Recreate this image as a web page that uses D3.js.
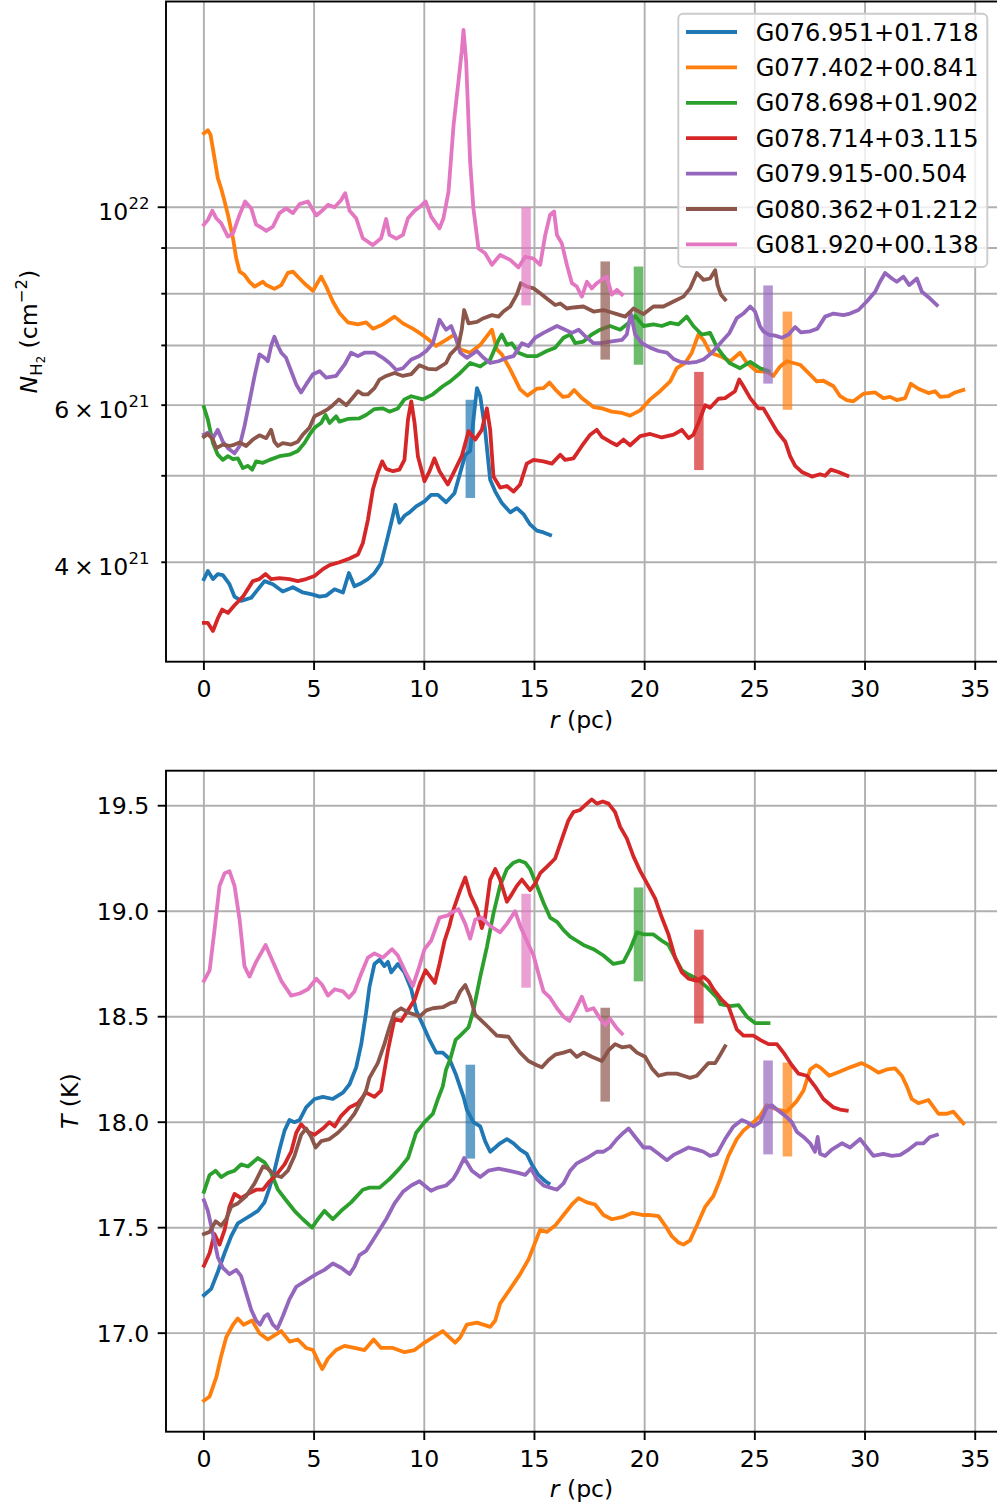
<!DOCTYPE html>
<html><head><meta charset="utf-8">
<script src="https://cdn.jsdelivr.net/npm/d3@7"></script>
<style>body{margin:0;background:#fff} text{font-family:"DejaVu Sans",sans-serif;fill:#000}</style>
</head><body><svg id="c" width="997" height="1510" xmlns="http://www.w3.org/2000/svg"></svg>
<script>
// ---------------- data ----------------
const names = ["G076.951+01.718","G077.402+00.841","G078.698+01.902","G078.714+03.115","G079.915-00.504","G080.362+01.212","G081.920+00.138"];
const colors = ["#1f77b4","#ff7f0e","#2ca02c","#d62728","#9467bd","#8c564b","#e377c2"];

// column density profiles, N(H2) in units of 1e21 cm^-2, [r (pc), N]
const blueN = [[0,3.83],[0.18,3.91],[0.41,3.83],[0.63,3.88],[0.86,3.87],[1.16,3.78],[1.39,3.66],[1.69,3.62],[2.15,3.65],[2.45,3.73],[2.75,3.81],[3.13,3.78],[3.58,3.71],[4.04,3.75],[4.49,3.70],[4.95,3.68],[5.25,3.66],[5.55,3.67],[5.93,3.73],[6.31,3.70],[6.58,3.89],[6.83,3.76],[7.14,3.79],[7.44,3.83],[7.74,3.89],[8.04,3.99],[8.27,4.20],[8.50,4.43],[8.69,4.64],[8.87,4.43],[9.10,4.51],[9.33,4.55],[9.63,4.62],[10.01,4.68],[10.31,4.76],[10.62,4.76],[10.99,4.67],[11.37,4.78],[11.63,5.04],[11.86,5.28],[12.08,5.33],[12.23,5.78],[12.39,6.27],[12.54,6.14],[12.76,5.63],[12.99,4.95],[13.22,4.80],[13.52,4.66],[13.90,4.55],[14.20,4.60],[14.50,4.53],[14.80,4.41],[15.11,4.34],[15.41,4.32],[15.71,4.29]];
const orangeN = [[0,12.10],[0.18,12.20],[0.30,12.06],[0.48,11.35],[0.63,10.78],[0.78,10.50],[0.94,10.15],[1.09,9.81],[1.32,9.23],[1.47,8.76],[1.62,8.47],[1.84,8.40],[2.07,8.25],[2.30,8.15],[2.68,8.25],[2.83,8.18],[3.20,8.10],[3.51,8.18],[3.81,8.44],[4.04,8.47],[4.34,8.32],[4.64,8.18],[4.95,8.06],[5.10,8.18],[5.32,8.36],[5.55,8.15],[5.85,7.84],[6.15,7.61],[6.53,7.43],[6.99,7.39],[7.36,7.43],[7.67,7.31],[8.12,7.39],[8.65,7.54],[9.03,7.41],[9.48,7.31],[9.78,7.23],[10.09,7.14],[10.54,6.99],[10.99,7.10],[11.37,7.20],[11.63,6.93],[12.08,6.87],[12.54,7.01],[13.07,7.29],[13.29,6.93],[13.52,6.84],[13.90,6.58],[14.35,6.25],[14.68,6.15],[15.11,6.26],[15.41,6.27],[15.68,6.36],[15.94,6.25],[16.29,6.13],[16.54,6.14],[16.80,6.24],[17.15,6.11],[17.68,5.97],[18.06,5.95],[18.51,5.90],[18.97,5.88],[19.34,5.84],[19.80,5.92],[20.25,6.09],[20.70,6.22],[21.16,6.38],[21.46,6.60],[21.84,6.69],[22.14,6.87],[22.44,7.20],[22.67,7.10],[22.97,6.87],[23.43,6.81],[23.88,6.72],[24.33,6.87],[24.64,6.69],[25.09,6.55],[25.54,6.54],[25.84,6.47],[26.15,6.63],[26.45,6.72],[27.05,6.66],[27.43,6.52],[27.81,6.38],[28.11,6.39],[28.57,6.30],[28.87,6.14],[29.17,6.08],[29.47,6.06],[29.93,6.18],[30.46,6.20],[30.83,6.11],[31.14,6.13],[31.44,6.08],[31.82,6.11],[32.08,6.34],[32.42,6.26],[32.88,6.19],[33.18,6.22],[33.41,6.13],[33.78,6.14],[34.09,6.20],[34.46,6.24]];
const greenN = [[0,5.97],[0.18,5.78],[0.41,5.44],[0.63,5.28],[0.86,5.21],[1.09,5.26],[1.32,5.22],[1.54,5.23],[1.77,5.10],[2.00,5.13],[2.19,5.08],[2.37,5.19],[2.68,5.17],[2.98,5.21],[3.43,5.26],[3.88,5.28],[4.26,5.33],[4.56,5.44],[4.79,5.56],[5.02,5.66],[5.32,5.73],[5.52,5.85],[5.70,5.73],[6.00,5.83],[6.15,5.75],[6.53,5.79],[7.06,5.80],[7.36,5.85],[7.74,5.94],[8.12,5.95],[8.42,5.90],[8.80,5.95],[9.10,6.09],[9.41,6.14],[9.94,6.09],[10.39,6.17],[10.84,6.30],[11.18,6.38],[11.63,6.52],[12.08,6.69],[12.54,6.63],[12.99,6.75],[13.37,7.10],[13.52,7.20],[13.75,7.01],[13.97,7.04],[14.27,6.87],[14.65,6.81],[15.11,6.81],[15.56,6.90],[15.94,6.96],[16.32,7.14],[16.62,7.20],[16.85,7.04],[17.22,7.07],[17.60,7.20],[17.98,7.29],[18.43,7.36],[18.89,7.29],[19.27,7.42],[19.57,7.55],[19.95,7.36],[20.40,7.39],[20.78,7.36],[21.16,7.42],[21.53,7.39],[21.91,7.54],[22.21,7.36],[22.59,7.20],[22.97,7.23],[23.28,6.97],[23.58,6.81],[23.85,6.69],[24.33,6.60],[24.79,6.71],[25.24,6.60],[25.62,6.55]];
const redN = [[0,3.42],[0.18,3.42],[0.41,3.35],[0.63,3.46],[0.83,3.54],[1.09,3.51],[1.39,3.58],[1.77,3.66],[2.22,3.81],[2.52,3.83],[2.80,3.88],[3.05,3.83],[3.43,3.84],[3.88,3.83],[4.26,3.81],[4.64,3.83],[5.02,3.86],[5.40,3.93],[5.70,3.97],[6.15,4.00],[6.61,4.04],[6.99,4.08],[7.21,4.20],[7.44,4.46],[7.67,4.83],[7.89,5.04],[8.09,5.19],[8.27,5.09],[8.58,5.06],[8.87,5.08],[9.10,5.21],[9.26,5.78],[9.41,6.06],[9.56,5.73],[9.71,5.26],[10.01,4.93],[10.24,5.06],[10.46,5.23],[10.69,5.06],[11.07,4.89],[11.40,5.08],[11.70,5.26],[12.01,5.61],[12.31,5.49],[12.61,5.63],[12.84,5.95],[12.99,5.63],[13.14,4.99],[13.44,4.85],[13.75,4.87],[14.05,4.80],[14.35,4.89],[14.65,5.16],[14.96,5.21],[15.41,5.19],[15.79,5.16],[16.17,5.28],[16.39,5.21],[16.77,5.23],[17.15,5.40],[17.53,5.56],[17.83,5.63],[18.06,5.53],[18.43,5.46],[18.74,5.41],[19.04,5.49],[19.34,5.41],[19.80,5.54],[20.25,5.57],[20.78,5.52],[21.31,5.56],[21.69,5.63],[21.99,5.51],[22.21,5.56],[22.44,5.73],[22.75,6.00],[22.97,5.96],[23.35,6.10],[23.65,6.11],[24.10,6.22],[24.29,6.41],[24.48,6.30],[24.79,6.11],[25.16,5.95],[25.39,5.95],[25.69,5.78],[26.00,5.61],[26.38,5.46],[26.60,5.26],[26.83,5.13],[27.13,5.05],[27.59,4.99],[27.96,5.02],[28.19,5.00],[28.45,5.08],[28.79,5.05],[29.20,5.00]];
const purpleN = [[0,5.56],[0.18,5.59],[0.41,5.51],[0.63,5.63],[0.86,5.46],[1.09,5.37],[1.39,5.30],[1.62,5.40],[1.84,5.68],[2.07,6.06],[2.30,6.47],[2.52,6.84],[2.75,6.78],[2.90,6.72],[3.05,6.99],[3.20,7.16],[3.36,6.99],[3.51,6.87],[3.73,6.78],[3.96,6.55],[4.19,6.33],[4.41,6.20],[4.64,6.33],[4.95,6.50],[5.25,6.55],[5.55,6.44],[6.00,6.47],[6.38,6.66],[6.68,6.87],[6.99,6.81],[7.29,6.87],[7.74,6.87],[8.12,6.78],[8.42,6.69],[8.73,6.57],[9.03,6.60],[9.41,6.75],[9.78,6.81],[10.09,6.90],[10.39,7.04],[10.69,7.48],[10.99,7.29],[11.22,7.36],[11.42,7.15],[11.63,6.87],[11.93,6.78],[12.39,6.90],[12.69,6.78],[12.99,6.69],[13.37,6.72],[13.75,6.78],[14.05,6.81],[14.43,7.04],[14.73,6.99],[15.03,7.14],[15.41,7.23],[16.02,7.36],[16.39,7.29],[16.70,7.23],[17.00,7.29],[17.30,7.17],[17.68,7.04],[17.98,7.04],[18.43,7.07],[18.97,7.10],[19.19,7.20],[19.37,7.60],[19.57,7.20],[19.87,7.04],[20.25,6.96],[20.63,6.90],[21.01,6.87],[21.31,6.76],[21.61,6.71],[21.99,6.69],[22.37,6.71],[22.67,6.75],[23.05,6.87],[23.43,7.04],[23.85,7.23],[24.18,7.51],[24.48,7.60],[24.79,7.74],[25.01,7.64],[25.24,7.35],[25.39,7.26],[25.62,7.20],[25.92,7.18],[26.23,7.14],[26.53,7.20],[26.83,7.34],[27.09,7.24],[27.51,7.26],[27.84,7.31],[28.19,7.54],[28.57,7.60],[29.02,7.57],[29.32,7.60],[29.70,7.67],[30.08,7.84],[30.46,8.04],[30.68,8.25],[30.91,8.44],[31.22,8.32],[31.44,8.25],[31.74,8.36],[32.01,8.18],[32.35,8.32],[32.58,8.04],[32.95,7.90],[33.26,7.77]];
const brownN = [[0,5.53],[0.18,5.57],[0.41,5.49],[0.56,5.37],[0.86,5.42],[1.16,5.40],[1.39,5.42],[1.62,5.45],[1.92,5.40],[2.22,5.49],[2.52,5.55],[2.83,5.51],[3.05,5.63],[3.20,5.46],[3.36,5.40],[3.58,5.44],[3.96,5.42],[4.26,5.46],[4.49,5.56],[4.79,5.66],[5.02,5.83],[5.32,5.88],[5.63,5.94],[5.85,6.00],[6.13,6.09],[6.46,6.00],[6.76,6.12],[6.99,6.22],[7.21,6.17],[7.44,6.17],[7.74,6.27],[7.97,6.41],[8.27,6.47],[8.65,6.52],[9.03,6.47],[9.41,6.50],[9.78,6.65],[10.16,6.59],[10.54,6.58],[10.99,6.69],[11.18,6.84],[11.55,6.99],[11.70,7.29],[11.81,7.67],[12.01,7.41],[12.39,7.44],[12.69,7.51],[13.07,7.57],[13.37,7.54],[13.59,7.64],[13.90,7.74],[14.20,7.98],[14.38,8.22],[14.65,8.15],[14.96,8.11],[15.26,8.01],[15.56,7.90],[15.94,7.77],[16.17,7.80],[16.47,7.70],[16.77,7.72],[17.22,7.74],[17.68,7.64],[18.13,7.67],[18.43,7.63],[18.89,7.57],[19.12,7.54],[19.49,7.70],[19.95,7.59],[20.40,7.74],[20.85,7.74],[21.31,7.84],[21.76,7.94],[22.06,8.11],[22.37,8.44],[22.67,8.29],[22.97,8.32],[23.20,8.50],[23.31,8.18],[23.46,7.98],[23.65,7.88]];
const pinkN = [[0,9.56],[0.18,9.68],[0.38,9.91],[0.56,9.72],[0.78,9.60],[1.09,9.27],[1.32,9.35],[1.62,9.81],[1.87,10.15],[2.15,9.97],[2.37,9.56],[2.60,9.49],[2.83,9.41],[3.13,9.51],[3.43,9.85],[3.73,9.97],[4.04,9.85],[4.34,10.08],[4.72,10.15],[5.10,9.79],[5.40,9.93],[5.63,10.06],[5.93,10.00],[6.23,10.19],[6.41,10.37],[6.61,9.91],[6.91,9.72],[7.21,9.23],[7.67,9.07],[8.04,9.23],[8.27,9.70],[8.42,9.31],[8.73,9.22],[9.03,9.31],[9.26,9.72],[9.56,9.91],[9.86,10.04],[10.06,10.15],[10.31,9.76],[10.69,9.47],[10.87,9.72],[11.10,10.41],[11.33,12.37],[11.55,13.83],[11.70,14.96],[11.78,15.80],[11.90,14.57],[12.08,11.25],[12.23,9.97],[12.46,8.99],[12.76,8.88],[13.07,8.62],[13.44,8.84],[13.90,8.73],[14.27,8.56],[14.58,8.80],[14.96,8.76],[15.26,8.62],[15.49,9.31],[15.71,9.81],[15.89,9.89],[16.02,9.31],[16.24,9.11],[16.47,8.62],[16.70,8.22],[16.92,8.15],[17.15,7.94],[17.38,8.25],[17.60,8.11],[17.83,8.22],[18.13,8.32],[18.28,8.36],[18.51,7.98],[18.74,8.08],[18.97,7.98]];

// dust temperature profiles, [r (pc), T (K)]
const blueT = [[0,17.18],[0.33,17.21],[0.63,17.29],[0.94,17.38],[1.24,17.46],[1.54,17.52],[1.84,17.54],[2.15,17.56],[2.45,17.58],[2.75,17.62],[2.98,17.69],[3.20,17.77],[3.43,17.87],[3.66,17.96],[3.88,18.01],[4.11,18.00],[4.34,18.01],[4.64,18.07],[5.02,18.11],[5.40,18.12],[5.85,18.11],[6.31,18.14],[6.61,18.18],[6.91,18.26],[7.14,18.37],[7.36,18.52],[7.51,18.64],[7.74,18.75],[7.97,18.77],[8.19,18.74],[8.35,18.76],[8.50,18.71],[8.80,18.75],[9.10,18.71],[9.41,18.63],[9.63,18.53],[9.94,18.46],[10.24,18.39],[10.54,18.33],[10.84,18.33],[11.14,18.30],[11.42,18.23],[11.78,18.12],[11.93,18.06],[12.23,18.00],[12.54,17.98],[12.76,17.91],[12.99,17.86],[13.22,17.88],[13.44,17.90],[13.75,17.92],[14.05,17.90],[14.35,17.87],[14.65,17.85],[14.88,17.80],[15.18,17.75],[15.49,17.72],[15.64,17.71]];
const orangeT = [[0,16.68],[0.26,16.70],[0.56,16.79],[0.78,16.89],[1.01,16.98],[1.32,17.04],[1.54,17.07],[1.80,17.04],[2.19,17.06],[2.52,17.00],[2.90,16.97],[3.20,16.99],[3.51,17.01],[3.89,16.96],[4.26,16.97],[4.64,16.93],[4.95,16.92],[5.17,16.87],[5.37,16.83],[5.63,16.88],[6.00,16.92],[6.38,16.94],[6.83,16.93],[7.29,16.92],[7.70,16.97],[8.04,16.93],[8.58,16.93],[9.10,16.91],[9.56,16.92],[9.94,16.95],[10.39,16.98],[10.84,17.01],[11.14,16.98],[11.40,16.955],[11.63,16.98],[11.93,17.04],[12.39,17.05],[12.99,17.03],[13.22,17.06],[13.44,17.14],[13.90,17.21],[14.35,17.28],[14.73,17.35],[15.03,17.43],[15.26,17.49],[15.56,17.48],[15.94,17.51],[16.32,17.56],[16.70,17.61],[17.00,17.64],[17.38,17.62],[17.75,17.61],[18.13,17.56],[18.51,17.54],[18.97,17.55],[19.42,17.57],[19.95,17.56],[20.25,17.56],[20.63,17.555],[20.93,17.51],[21.23,17.46],[21.53,17.43],[21.76,17.42],[22.06,17.44],[22.37,17.51],[22.75,17.60],[23.12,17.65],[23.43,17.73],[23.80,17.84],[24.18,17.92],[24.48,17.96],[24.94,18.00],[25.24,18.03],[25.54,18.08],[26.00,18.06],[26.45,18.05],[26.90,18.10],[27.21,18.15],[27.51,18.25],[27.78,18.27],[27.96,18.26],[28.38,18.22],[28.87,18.24],[29.32,18.26],[29.85,18.28],[30.23,18.26],[30.61,18.235],[30.99,18.25],[31.37,18.255],[31.67,18.22],[31.90,18.17],[32.12,18.11],[32.42,18.09],[32.88,18.105],[33.33,18.04],[33.71,18.04],[34.01,18.05],[34.46,17.995]];
const greenT = [[0,17.67],[0.26,17.75],[0.53,17.77],[0.78,17.74],[1.09,17.76],[1.39,17.77],[1.69,17.80],[2.00,17.79],[2.45,17.83],[2.75,17.81],[3.05,17.76],[3.36,17.68],[3.73,17.63],[4.11,17.58],[4.49,17.54],[4.91,17.50],[5.17,17.54],[5.47,17.58],[5.85,17.54],[6.23,17.58],[6.68,17.62],[7.21,17.68],[7.51,17.69],[7.97,17.69],[8.42,17.73],[8.87,17.78],[9.26,17.83],[9.63,17.95],[10.01,18.00],[10.39,18.04],[10.62,18.11],[10.84,18.17],[10.99,18.25],[11.18,18.30],[11.42,18.39],[11.63,18.41],[12.01,18.45],[12.23,18.53],[12.54,18.69],[12.84,18.83],[13.14,18.99],[13.44,19.12],[13.75,19.20],[14.05,19.23],[14.31,19.24],[14.58,19.23],[14.80,19.20],[15.11,19.12],[15.41,19.04],[15.71,18.97],[16.02,18.95],[16.32,18.91],[16.62,18.88],[16.92,18.86],[17.22,18.84],[17.68,18.82],[18.13,18.79],[18.58,18.75],[19.04,18.76],[19.34,18.82],[19.65,18.90],[19.95,18.89],[20.40,18.89],[20.78,18.86],[21.08,18.84],[21.38,18.78],[21.69,18.72],[21.99,18.70],[22.37,18.68],[22.82,18.64],[23.28,18.59],[23.43,18.56],[23.88,18.55],[24.26,18.555],[24.64,18.50],[25.01,18.47],[25.62,18.47]];
const redT = [[0,17.32],[0.26,17.38],[0.48,17.47],[0.71,17.42],[0.94,17.49],[1.16,17.60],[1.39,17.66],[1.69,17.64],[2.00,17.66],[2.37,17.68],[2.68,17.68],[2.98,17.72],[3.28,17.75],[3.66,17.80],[3.96,17.86],[4.19,17.95],[4.41,17.99],[4.72,17.955],[5.02,17.94],[5.40,17.97],[5.70,18.00],[5.93,17.98],[6.23,18.03],[6.61,18.07],[6.99,18.09],[7.36,18.14],[7.74,18.12],[8.04,18.15],[8.35,18.34],[8.65,18.49],[8.95,18.48],[9.26,18.53],[9.56,18.58],[9.81,18.66],[10.06,18.72],[10.27,18.69],[10.48,18.66],[10.69,18.75],[10.92,18.86],[11.14,18.93],[11.33,19.01],[11.63,19.10],[11.86,19.16],[12.08,19.08],[12.39,19.01],[12.61,18.92],[12.76,18.97],[12.99,19.15],[13.22,19.20],[13.44,19.15],[13.75,19.045],[13.97,19.08],[14.20,19.12],[14.43,19.15],[14.65,19.12],[14.80,19.10],[15.03,19.13],[15.26,19.18],[15.56,19.21],[15.94,19.25],[16.24,19.34],[16.54,19.43],[16.77,19.47],[17.07,19.48],[17.38,19.51],[17.60,19.53],[17.83,19.51],[18.10,19.52],[18.36,19.51],[18.66,19.47],[18.89,19.40],[19.19,19.345],[19.49,19.26],[19.80,19.19],[20.17,19.12],[20.48,19.06],[20.78,18.97],[21.08,18.89],[21.38,18.78],[21.69,18.71],[21.99,18.68],[22.37,18.67],[22.67,18.69],[22.89,18.67],[23.12,18.63],[23.50,18.58],[23.80,18.55],[24.18,18.44],[24.48,18.41],[24.94,18.41],[25.24,18.39],[25.62,18.37],[26.00,18.37],[26.30,18.33],[26.68,18.27],[26.98,18.23],[27.36,18.22],[27.73,18.17],[28.11,18.11],[28.57,18.07],[28.87,18.06],[29.17,18.055]];
const purpleT = [[0,17.63],[0.18,17.58],[0.41,17.47],[0.63,17.36],[0.86,17.31],[1.16,17.28],[1.47,17.30],[1.69,17.27],[1.92,17.19],[2.15,17.11],[2.37,17.06],[2.55,17.04],[2.75,17.08],[2.90,17.09],[3.13,17.04],[3.33,17.02],[3.58,17.08],[3.88,17.16],[4.19,17.22],[4.49,17.24],[4.79,17.26],[5.10,17.28],[5.47,17.30],[5.85,17.33],[6.23,17.31],[6.61,17.28],[6.83,17.315],[7.06,17.37],[7.36,17.39],[7.67,17.44],[7.97,17.49],[8.27,17.54],[8.65,17.615],[9.03,17.67],[9.41,17.70],[9.78,17.72],[10.01,17.70],[10.31,17.675],[10.62,17.69],[10.99,17.70],[11.30,17.73],[11.48,17.76],[11.81,17.83],[12.16,17.77],[12.54,17.74],[12.91,17.77],[13.37,17.78],[13.82,17.77],[14.27,17.76],[14.58,17.75],[14.84,17.78],[15.11,17.73],[15.41,17.70],[15.71,17.69],[16.02,17.68],[16.32,17.71],[16.62,17.77],[16.92,17.805],[17.38,17.83],[17.83,17.86],[18.13,17.86],[18.43,17.88],[18.74,17.92],[19.04,17.95],[19.27,17.97],[19.57,17.93],[19.95,17.88],[20.25,17.88],[20.63,17.85],[21.01,17.82],[21.31,17.845],[21.61,17.86],[21.99,17.88],[22.37,17.87],[22.67,17.86],[22.97,17.84],[23.28,17.85],[23.65,17.92],[24.03,17.98],[24.41,18.01],[24.64,18.00],[24.94,17.98],[25.24,18.00],[25.54,18.07],[25.77,18.08],[26.00,18.06],[26.38,18.03],[26.68,18.00],[26.90,17.955],[27.21,17.93],[27.51,17.90],[27.73,17.86],[27.85,17.93],[27.96,17.85],[28.19,17.84],[28.49,17.87],[28.95,17.90],[29.32,17.88],[29.78,17.92],[30.08,17.88],[30.38,17.84],[30.83,17.85],[31.22,17.84],[31.60,17.845],[31.98,17.87],[32.35,17.90],[32.65,17.90],[32.95,17.93],[33.26,17.94]];
const brownT = [[0,17.47],[0.26,17.48],[0.53,17.53],[0.78,17.51],[1.01,17.54],[1.24,17.60],[1.54,17.615],[1.92,17.65],[2.30,17.71],[2.68,17.79],[2.90,17.78],[3.20,17.75],[3.51,17.74],[3.81,17.77],[4.11,17.84],[4.41,17.94],[4.64,17.97],[4.87,17.93],[5.07,17.88],[5.32,17.91],[5.70,17.92],[6.08,17.95],[6.46,17.99],[6.83,18.04],[7.14,18.10],[7.36,18.15],[7.51,18.21],[7.89,18.28],[8.19,18.37],[8.42,18.45],[8.65,18.52],[8.95,18.54],[9.26,18.52],[9.56,18.51],[9.78,18.50],[10.09,18.53],[10.39,18.54],[10.84,18.545],[11.22,18.566],[11.40,18.57],[11.63,18.62],[11.86,18.65],[12.08,18.595],[12.31,18.51],[12.61,18.48],[12.91,18.45],[13.29,18.41],[13.82,18.405],[14.05,18.37],[14.35,18.33],[14.73,18.29],[15.11,18.27],[15.34,18.26],[15.64,18.295],[15.94,18.32],[16.32,18.33],[16.62,18.34],[16.92,18.31],[17.22,18.33],[17.60,18.31],[18.06,18.29],[18.36,18.34],[18.66,18.37],[18.97,18.355],[19.34,18.36],[19.65,18.33],[20.02,18.31],[20.33,18.255],[20.63,18.22],[21.01,18.23],[21.46,18.23],[21.76,18.22],[22.06,18.21],[22.37,18.22],[22.67,18.255],[22.89,18.28],[23.20,18.28],[23.43,18.32],[23.65,18.36]];
const pinkT = [[0,18.67],[0.26,18.72],[0.48,18.91],[0.71,19.12],[0.94,19.18],[1.16,19.19],[1.39,19.12],[1.62,18.96],[1.84,18.74],[2.07,18.69],[2.37,18.76],[2.80,18.84],[3.13,18.76],[3.51,18.67],[3.96,18.60],[4.34,18.61],[4.72,18.63],[5.10,18.68],[5.37,18.65],[5.63,18.60],[5.93,18.63],[6.31,18.62],[6.58,18.59],[6.83,18.62],[7.14,18.705],[7.44,18.78],[7.74,18.80],[8.12,18.78],[8.54,18.82],[8.80,18.79],[9.18,18.705],[9.48,18.645],[9.78,18.74],[10.01,18.82],[10.31,18.86],[10.69,18.97],[11.07,18.98],[11.18,18.99],[11.55,19.01],[11.86,18.94],[12.08,18.87],[12.31,18.96],[12.61,18.97],[12.99,18.93],[13.44,18.90],[13.75,18.94],[14.12,19.00],[14.35,18.93],[14.65,18.86],[14.96,18.79],[15.18,18.705],[15.41,18.62],[15.71,18.59],[16.02,18.54],[16.32,18.50],[16.59,18.48],[16.85,18.53],[17.15,18.595],[17.38,18.53],[17.68,18.54],[17.98,18.49],[18.21,18.46],[18.43,18.49],[18.74,18.445],[18.97,18.42]];

// radius markers (vertical bars) for each filament
const barR = [12.09, 26.48, 19.72, 22.46, 25.60, 18.21, 14.62];
const barN = [5.36, 6.73, 7.56, 5.76, 7.20, 7.66, 8.81];
const barT = [18.05, 18.06, 18.89, 18.69, 18.07, 18.32, 18.86];

const xTicks = [0, 5, 10, 15, 20, 25, 30, 35];
const nGrid = [4, 5, 6, 7, 8, 9, 10];
const nLabelled = [[4, "4\u2009\u00d7\u200910", "21"], [6, "6\u2009\u00d7\u200910", "21"], [10, "10", "22"]];
const tTicks = [17.0, 17.5, 18.0, 18.5, 19.0, 19.5];

const seriesN = [blueN, orangeN, greenN, redN, purpleN, brownN, pinkN];
const seriesT = [blueT, orangeT, greenT, redT, purpleT, brownT, pinkT];

// ---------------- layout ----------------
const FS = 23.6, LFS = 24.1, LW = 3.8, GW = 1.9, TL = 8.3, TLm = 4.7;
const L = 166, R = 1001;
const P1 = {top: 1.5, bottom: 661.7};
const P2 = {top: 770.7, bottom: 1431.7};
const svg = d3.select("#c");

const x = d3.scaleLinear().domain([-1.72, 36.17]).range([L, R]);
const yN = d3.scaleLog().domain([Math.pow(10, 0.4906), Math.pow(10, 1.2306)]).range([P1.bottom, P1.top]);
const yT = d3.scaleLinear().domain([16.533, 19.666]).range([P2.bottom, P2.top]);

function panel(P, y, gridVals, id) {
  const g = svg.append("g");
  svg.append("clipPath").attr("id", id).append("rect")
    .attr("x", L).attr("y", P.top).attr("width", R - L).attr("height", P.bottom - P.top);
  g.selectAll(".gx").data(xTicks).enter().append("line")
    .attr("x1", d => x(d)).attr("x2", d => x(d)).attr("y1", P.top).attr("y2", P.bottom)
    .attr("stroke", "#b0b0b0").attr("stroke-width", GW);
  g.selectAll(".gy").data(gridVals).enter().append("line")
    .attr("x1", L).attr("x2", R).attr("y1", d => y(d)).attr("y2", d => y(d))
    .attr("stroke", "#b0b0b0").attr("stroke-width", GW);
  return g;
}

function drawSeries(P, y, data, barC, barLo, barHi, id) {
  const g = svg.append("g").attr("clip-path", `url(#${id})`);
  const line = d3.line().x(d => x(d[0])).y(d => y(d[1]));
  data.forEach((s, i) => {
    g.append("path").attr("d", line(s)).attr("fill", "none")
      .attr("stroke", colors[i]).attr("stroke-width", LW)
      .attr("stroke-linejoin", "round").attr("stroke-linecap", "square");
    const y0 = y(barHi(barC[i])) - 4.75, y1 = y(barLo(barC[i])) + 4.75;
    g.append("rect").attr("x", x(barR[i]) - 4.75).attr("width", 9.5)
      .attr("y", y0).attr("height", y1 - y0)
      .attr("fill", colors[i]).attr("opacity", 0.7);
  });
}

function xAxis(P, labelBaseline) {
  const g = svg.append("g");
  g.selectAll("line").data(xTicks).enter().append("line")
    .attr("x1", d => x(d)).attr("x2", d => x(d)).attr("y1", P.bottom).attr("y2", P.bottom + TL)
    .attr("stroke", "#000").attr("stroke-width", GW);
  g.selectAll("text").data(xTicks).enter().append("text")
    .attr("x", d => x(d)).attr("y", P.bottom + 35.3).attr("text-anchor", "middle")
    .attr("font-size", FS).text(d => d);
  const t = svg.append("text").attr("x", (L + R) / 2 - 2).attr("y", labelBaseline)
    .attr("text-anchor", "middle").attr("font-size", FS);
  t.append("tspan").attr("font-style", "italic").text("r");
  t.append("tspan").text(" (pc)");
}

function frame(P) {
  svg.append("rect").attr("x", L).attr("y", P.top).attr("width", R - L).attr("height", P.bottom - P.top)
    .attr("fill", "none").attr("stroke", "#000").attr("stroke-width", GW);
}

// ---- top panel ----
panel(P1, yN, nGrid, "clip1");
drawSeries(P1, yN, seriesN, barN, v => v / Math.pow(10, 0.0497), v => v * Math.pow(10, 0.0497), "clip1");
frame(P1);
xAxis(P1, 728.4);
svg.append("g").selectAll("line").data(nGrid).enter().append("line")
  .attr("x1", d => L - (d === 10 ? TL : TLm)).attr("x2", L).attr("y1", d => yN(d)).attr("y2", d => yN(d))
  .attr("stroke", "#000").attr("stroke-width", GW);
nLabelled.forEach(([v, m, e]) => {
  const t = svg.append("text").attr("x", L - TL - 8.3).attr("y", yN(v) + 12.5)
    .attr("text-anchor", "end").attr("font-size", FS);
  t.append("tspan").text(m);
  t.append("tspan").attr("font-size", 16.5).attr("dy", -10.5).text(e);
});
{
  const t = svg.append("text").attr("transform", `translate(37,${(P1.top + P1.bottom) / 2}) rotate(-90)`)
    .attr("text-anchor", "middle").attr("font-size", FS);
  t.append("tspan").attr("font-style", "italic").text("N");
  t.append("tspan").attr("font-size", 16.5).attr("dy", 5).text("H");
  t.append("tspan").attr("font-size", 11.6).attr("dy", 3).text("2");
  t.append("tspan").attr("dy", -8).text(" (cm");
  t.append("tspan").attr("font-size", 16.5).attr("dy", -10).text("\u22122");
  t.append("tspan").attr("dy", 10).text(")");
}

// ---- bottom panel ----
panel(P2, yT, tTicks, "clip2");
drawSeries(P2, yT, seriesT, barT, v => v - 0.2, v => v + 0.2, "clip2");
frame(P2);
xAxis(P2, 1497.2);
svg.append("g").selectAll("line").data(tTicks).enter().append("line")
  .attr("x1", L - TL).attr("x2", L).attr("y1", d => yT(d)).attr("y2", d => yT(d))
  .attr("stroke", "#000").attr("stroke-width", GW);
svg.append("g").selectAll("text").data(tTicks).enter().append("text")
  .attr("x", L - TL - 8.3).attr("y", d => yT(d) + 8.6).attr("text-anchor", "end")
  .attr("font-size", FS).text(d => d.toFixed(1));
{
  const t = svg.append("text").attr("transform", `translate(78,${(P2.top + P2.bottom) / 2}) rotate(-90)`)
    .attr("text-anchor", "middle").attr("font-size", FS);
  t.append("tspan").attr("font-style", "italic").text("T");
  t.append("tspan").text(" (K)");
}

// ---- legend ----
const lg = svg.append("g");
lg.append("rect").attr("x", 678.3).attr("y", 13.7).attr("width", 309).attr("height", 253.3)
  .attr("rx", 4.7).attr("fill", "#fff").attr("fill-opacity", 0.8)
  .attr("stroke", "#cccccc").attr("stroke-width", GW);
names.forEach((n, i) => {
  const yy = 32 + i * 35.4;
  lg.append("line").attr("x1", 686).attr("x2", 737).attr("y1", yy).attr("y2", yy)
    .attr("stroke", colors[i]).attr("stroke-width", LW);
  lg.append("text").attr("x", 755.7).attr("y", yy + 8.5).attr("font-size", LFS).text(n);
});
</script></body></html>
